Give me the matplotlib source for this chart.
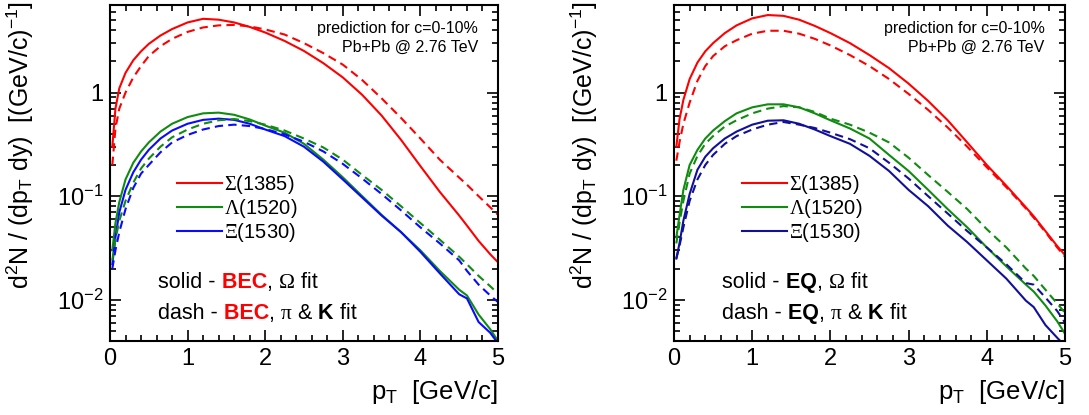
import numpy as np
import matplotlib
matplotlib.use("Agg")
import matplotlib.pyplot as plt
from matplotlib.ticker import MultipleLocator, LogLocator, FuncFormatter, NullFormatter

plt.rcParams['font.family'] = ['Liberation Sans', 'DejaVu Sans']
plt.rcParams['mathtext.fontset'] = 'custom'
plt.rcParams['mathtext.rm'] = 'Liberation Sans'
plt.rcParams['mathtext.sf'] = 'Liberation Serif'
plt.rcParams['mathtext.default'] = 'regular'

# pT grid [GeV/c]
pt = [0.03, 0.07, 0.12, 0.2, 0.3, 0.4, 0.5, 0.65, 0.8, 1.0, 1.2, 1.4, 1.6, 1.8, 2.0,
      2.25, 2.5, 2.75, 3.0, 3.25, 3.5, 3.75, 4.0, 4.25, 4.5, 4.6, 4.75, 4.9, 5.0]

# left panel: BEC
bec_sig_solid = [0.3, 0.7, 1.1, 1.55, 2.05, 2.5, 2.95, 3.55, 4.1, 4.75, 5.15, 5.05, 4.75, 4.3, 3.8,
                 3.15, 2.52, 1.92, 1.4, 0.95, 0.6, 0.35, 0.195, 0.11, 0.065, 0.052, 0.037, 0.0275, 0.023]
bec_sig_dash = [0.2, 0.45, 0.7, 1.0, 1.4, 1.8, 2.25, 2.8, 3.3, 3.85, 4.25, 4.45, 4.5, 4.35, 4.07,
                3.63, 3.0, 2.4, 1.86, 1.32, 0.88, 0.57, 0.36, 0.225, 0.151, 0.129, 0.1, 0.078, 0.066]
bec_lam_solid = [0.03, 0.055, 0.088, 0.145, 0.21, 0.27, 0.33, 0.42, 0.5, 0.58, 0.63, 0.64, 0.61, 0.55, 0.48,
                 0.41, 0.32, 0.225, 0.152, 0.1, 0.066, 0.045, 0.03, 0.019, 0.0125, 0.011, 0.0072, 0.0052, 0.004]
bec_lam_dash = [0.024, 0.038, 0.058, 0.09, 0.135, 0.185, 0.23, 0.3, 0.37, 0.44, 0.5, 0.54, 0.555, 0.53, 0.49,
                0.43, 0.36, 0.295, 0.225, 0.16, 0.115, 0.08, 0.055, 0.038, 0.026, 0.022, 0.017, 0.0135, 0.0115]
bec_xi_solid = [0.022, 0.04, 0.07, 0.115, 0.17, 0.225, 0.28, 0.36, 0.43, 0.5, 0.545, 0.56, 0.545, 0.5, 0.44,
                0.38, 0.3, 0.215, 0.145, 0.097, 0.065, 0.045, 0.029, 0.018, 0.0113, 0.0103, 0.0061, 0.0048, 0.0038]
bec_xi_dash = [0.02, 0.03, 0.045, 0.075, 0.12, 0.165, 0.2, 0.265, 0.33, 0.39, 0.44, 0.475, 0.49, 0.475, 0.445,
               0.395, 0.335, 0.27, 0.205, 0.148, 0.105, 0.073, 0.05, 0.035, 0.024, 0.019, 0.014, 0.011, 0.0095]

# right panel: EQ
eq_sig_solid = [0.3, 0.55, 0.85, 1.35, 1.95, 2.5, 3.0, 3.75, 4.45, 5.2, 5.6, 5.5, 5.05, 4.4, 3.75,
                3.0, 2.3, 1.72, 1.22, 0.83, 0.54, 0.33, 0.2, 0.126, 0.078, 0.064, 0.046, 0.033, 0.027]
eq_sig_dash = [0.22, 0.33, 0.5, 0.8, 1.3, 1.8, 2.25, 2.8, 3.2, 3.7, 3.95, 3.95, 3.7, 3.3, 2.85,
               2.3, 1.8, 1.35, 0.97, 0.68, 0.46, 0.3, 0.19, 0.122, 0.076, 0.062, 0.045, 0.032, 0.026]
eq_lam_solid = [0.04, 0.065, 0.115, 0.2, 0.28, 0.36, 0.43, 0.53, 0.63, 0.72, 0.77, 0.77, 0.72, 0.63, 0.54,
                0.45, 0.36, 0.25, 0.175, 0.115, 0.075, 0.05, 0.032, 0.021, 0.014, 0.012, 0.0088, 0.0062, 0.0047]
eq_lam_dash = [0.035, 0.055, 0.09, 0.165, 0.245, 0.32, 0.38, 0.47, 0.54, 0.63, 0.7, 0.74, 0.72, 0.65, 0.56,
               0.49, 0.41, 0.33, 0.235, 0.16, 0.11, 0.075, 0.048, 0.032, 0.02, 0.017, 0.0125, 0.0092, 0.0075]
eq_xi_solid = [0.025, 0.035, 0.058, 0.105, 0.18, 0.24, 0.29, 0.36, 0.42, 0.49, 0.535, 0.54, 0.5, 0.44, 0.38,
               0.32, 0.245, 0.175, 0.115, 0.08, 0.052, 0.036, 0.024, 0.016, 0.0098, 0.0085, 0.0057, 0.0043, 0.0036]
eq_xi_dash = [0.025, 0.033, 0.05, 0.09, 0.145, 0.2, 0.25, 0.32, 0.38, 0.44, 0.49, 0.52, 0.49, 0.455, 0.41,
              0.355, 0.29, 0.21, 0.148, 0.1, 0.068, 0.046, 0.032, 0.022, 0.0145, 0.014, 0.0105, 0.0078, 0.006]

labels = [r'$\mathsf{\Sigma}$(1385)', r'$\mathsf{\Lambda}$(1520)', r'$\mathsf{\Xi}$(1530)']
red = '#ff0000'
green = '#108c10'
blue_l = '#0a0aff'
blue_r = '#10109a'

W, H = 1089, 415
fig = plt.figure(figsize=(W / 100, H / 100), dpi=100)
ax1 = fig.add_axes([110 / W, 1 - 341 / H, 388 / W, 336 / H])
ax2 = fig.add_axes([674 / W, 1 - 341 / H, 391 / W, 336 / H])


def ylog_fmt(v, p):
    if abs(v - 1) < 1e-9:
        return '1'
    return r'$10^{%d}$' % int(round(np.log10(v)))


def rich(ax, x, y, pieces, size):
    t = ax.text(x, y, pieces[0][0], transform=ax.transAxes, fontsize=size,
                va='center', ha='left', **pieces[0][1])
    for s, kw in pieces[1:]:
        t = ax.annotate(s, xy=(1, 0), xycoords=t, va='bottom', ha='left',
                        fontsize=size, **kw)


def panel(ax, series, blue, tag, tagcolor):
    sig_s, sig_d, lam_s, lam_d, xi_s, xi_d = series
    lw = 1.5
    dash = (0, (4, 2.5))
    h1, = ax.plot(pt, sig_s, color=red, lw=lw)
    h2, = ax.plot(pt, lam_s, color=green, lw=lw)
    h3, = ax.plot(pt, xi_s, color=blue, lw=lw)
    ax.plot(pt, sig_d, color=red, lw=lw, ls=dash)
    ax.plot(pt, lam_d, color=green, lw=lw, ls=dash)
    ax.plot(pt, xi_d, color=blue, lw=lw, ls=dash)

    ax.set_yscale('log')
    ax.set_xlim(0, 5)
    ax.set_ylim(0.004, 7)
    ax.xaxis.set_major_locator(MultipleLocator(1))
    ax.xaxis.set_minor_locator(MultipleLocator(0.2))
    ax.yaxis.set_major_locator(LogLocator(base=10, numticks=10))
    ax.yaxis.set_minor_locator(LogLocator(base=10, subs=np.arange(2, 10), numticks=20))
    ax.yaxis.set_major_formatter(FuncFormatter(ylog_fmt))
    ax.yaxis.set_minor_formatter(NullFormatter())
    ax.tick_params(which='both', direction='in', top=True, right=True, width=1.2,
                   labelsize=17)
    ax.tick_params(which='major', length=8, pad=5)
    ax.tick_params(which='minor', length=4)
    for sp in ax.spines.values():
        sp.set_linewidth(1.5)

    ax.set_xlabel(r'p$_{T}$  [GeV/c]', fontsize=18.5, loc='right', labelpad=6)
    ax.set_ylabel(r'd$^{2}$N / (dp$_{T}$ dy)  [(GeV/c)$^{-1}$]', fontsize=18, loc='top')
    ax.yaxis.set_label_coords(-0.19, 1.012)

    ax.text(0.948, 0.93, 'prediction for c=0-10%', transform=ax.transAxes,
            ha='right', va='center', fontsize=11.5)
    ax.text(0.948, 0.875, 'Pb+Pb @ 2.76 TeV', transform=ax.transAxes,
            ha='right', va='center', fontsize=11.5)

    ax.legend([h1, h2, h3], labels, loc='upper left', bbox_to_anchor=(0.173, 0.50),
              frameon=False, fontsize=14.5, handlelength=2.25, handletextpad=0.1,
              borderpad=0, borderaxespad=0, labelspacing=0.06)

    tkw = {'color': tagcolor, 'weight': 'bold'}
    serif = {'family': 'Liberation Serif'}
    rich(ax, 0.124, 0.173, [('solid -', {}), (' ' + tag, tkw), (', ', {}),
                            ('\u03a9', serif), (' fit', {})], 15.5)
    rich(ax, 0.124, 0.083, [('dash -', {}), (' ' + tag, tkw), (', ', {}),
                            ('\u03c0', serif), (' &', {}), (' K', {'weight': 'bold'}),
                            (' fit', {})], 15.5)


panel(ax1, [bec_sig_solid, bec_sig_dash, bec_lam_solid, bec_lam_dash, bec_xi_solid, bec_xi_dash],
      blue_l, 'BEC', red)
panel(ax2, [eq_sig_solid, eq_sig_dash, eq_lam_solid, eq_lam_dash, eq_xi_solid, eq_xi_dash],
      blue_r, 'EQ', 'black')

fig.savefig('out.png', dpi=100)
